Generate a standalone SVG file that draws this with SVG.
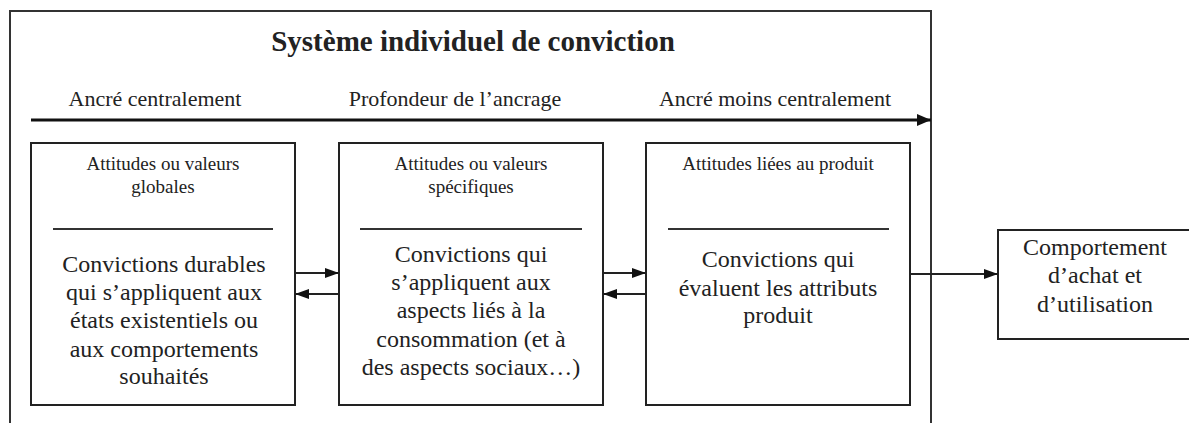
<svg xmlns="http://www.w3.org/2000/svg" width="1189" height="423" viewBox="0 0 1189 423" font-family="Liberation Serif, serif">
<style>
.box{fill:#fff;stroke:#222;stroke-width:2}
.sep{stroke:#333;stroke-width:2}
.conn{stroke:#222;stroke-width:2;fill:none}
.t{fill:#222;text-anchor:middle}
.title{font-size:29px;font-weight:bold}
.lab{font-size:22px}
.sm{font-size:19px}
.bg{font-size:24px}
</style>
<defs>
<marker id="ah" markerWidth="14" markerHeight="10" refX="14" refY="5" orient="auto" markerUnits="userSpaceOnUse">
<path d="M0,0 L14,5 L0,10 Z" fill="#111"/>
</marker>
<marker id="ahBig" markerWidth="14" markerHeight="12" refX="14" refY="6" orient="auto" markerUnits="userSpaceOnUse">
<path d="M0,0 L14,6 L0,12 Z" fill="#111"/>
</marker>
</defs>
<rect width="1189" height="423" fill="#fff"/>
<g id="frame">
<rect x="10" y="11" width="921" height="430" fill="none" stroke="#333" stroke-width="2"/>
<text class="t title" x="473" y="51" font-family="Liberation Serif">Système individuel de conviction</text>
<text class="t lab" x="155" y="106" font-family="Liberation Serif">Ancré centralement</text>
<text class="t lab" x="455" y="106" font-family="Liberation Serif">Profondeur de l’ancrage</text>
<text class="t lab" x="775" y="106" font-family="Liberation Serif">Ancré moins centralement</text>
</g>
<g id="box1" font-family="Liberation Serif">
<rect class="box" x="31" y="143" width="264" height="262"/>
<text class="t sm" x="163" y="170">Attitudes ou valeurs</text>
<text class="t sm" x="163" y="193">globales</text>
<line class="sep" x1="53" y1="229" x2="273" y2="229"/>
<text class="t bg" x="164" y="272">Convictions durables</text>
<text class="t bg" x="164" y="300">qui s’appliquent aux</text>
<text class="t bg" x="164" y="328">états existentiels ou</text>
<text class="t bg" x="164" y="357">aux comportements</text>
<text class="t bg" x="164" y="384">souhaités</text>
</g>
<g id="box2" font-family="Liberation Serif">
<rect class="box" x="339" y="143" width="264" height="262"/>
<text class="t sm" x="471" y="170">Attitudes ou valeurs</text>
<text class="t sm" x="471" y="193">spécifiques</text>
<line class="sep" x1="360" y1="229" x2="582" y2="229"/>
<text class="t bg" x="471" y="262">Convictions qui</text>
<text class="t bg" x="471" y="290">s’appliquent aux</text>
<text class="t bg" x="471" y="318">aspects liés à la</text>
<text class="t bg" x="471" y="347">consommation (et à</text>
<text class="t bg" x="471" y="375">des aspects sociaux…)</text>
</g>
<g id="box3" font-family="Liberation Serif">
<rect class="box" x="646" y="143" width="264" height="262"/>
<text class="t sm" x="778" y="170">Attitudes liées au produit</text>
<line class="sep" x1="668" y1="229" x2="889" y2="229"/>
<text class="t bg" x="778" y="267">Convictions qui</text>
<text class="t bg" x="778" y="296">évaluent les attributs</text>
<text class="t bg" x="778" y="323">produit</text>
</g>
<g id="box4" font-family="Liberation Serif">
<rect class="box" x="998" y="230" width="200" height="109"/>
<text class="t bg" x="1095" y="255">Comportement</text>
<text class="t bg" x="1095" y="283">d’achat et</text>
<text class="t bg" x="1095" y="312">d’utilisation</text>
</g>
<g id="connectors">
<line x1="31" y1="120" x2="931" y2="120" stroke="#111" stroke-width="3" marker-end="url(#ahBig)"/>
<line class="conn" x1="295" y1="273" x2="339" y2="273" marker-end="url(#ah)"/>
<line class="conn" x1="339" y1="294" x2="295" y2="294" marker-end="url(#ah)"/>
<line class="conn" x1="603" y1="273" x2="646" y2="273" marker-end="url(#ah)"/>
<line class="conn" x1="646" y1="294" x2="603" y2="294" marker-end="url(#ah)"/>
<line class="conn" x1="910" y1="274" x2="998" y2="274" marker-end="url(#ah)"/>
</g>
</svg>
